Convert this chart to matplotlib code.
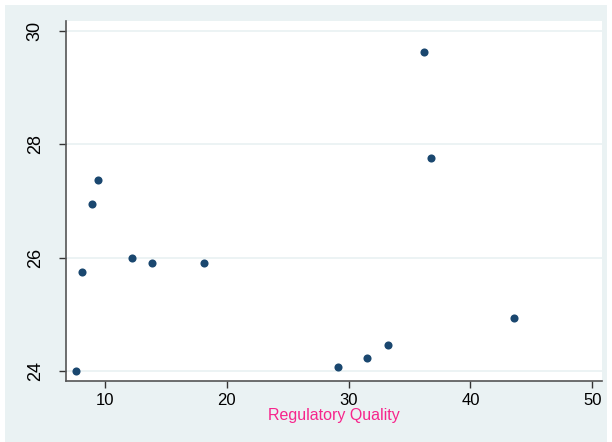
import matplotlib.pyplot as plt
from matplotlib.patches import Rectangle

plt.rcParams["font.family"] = ["Liberation Sans", "DejaVu Sans"]

# Regulatory quality vs. outcome
reg_quality = [7.6, 8.1, 8.9, 9.4, 12.2, 13.9, 18.1, 29.1, 31.5, 33.2, 36.2, 36.8, 43.6]
outcome = [24.0, 25.75, 26.95, 27.37, 25.99, 25.91, 25.91, 24.07, 24.23, 24.46, 29.63, 27.76, 24.94]
x_ticks = [10, 20, 30, 40, 50]
y_ticks = [24, 26, 28, 30]

bg = "#eaf2f3"
fig = plt.figure(figsize=(6.12, 4.42), dpi=100)
fig.patch.set_facecolor("white")
# light graph region behind the plot
fig.patches.append(Rectangle((5 / 612, 0), 602 / 612, 437 / 442, transform=fig.transFigure,
                             facecolor=bg, edgecolor="none", zorder=-10))

ax = fig.add_axes([66 / 612, 1 - 381 / 442, 536 / 612, 360 / 442])
ax.set_zorder(5)
ax.set_facecolor("white")
ax.scatter(reg_quality, outcome, s=34, color="#1a476f", zorder=3, linewidths=0)

ax.set_xlim(6.8, 50.8)
ax.set_ylim(23.82, 30.18)
ax.set_xticks(x_ticks)
ax.set_yticks(y_ticks)
ax.set_yticklabels([str(t) for t in y_ticks], rotation=90, va="center")
ax.tick_params(axis="both", labelsize=12, length=5, width=1, color="#333333", labelcolor="black")
ax.tick_params(axis="y", pad=11, labelsize=13)
ax.grid(axis="y", color=bg, linewidth=1.3)
ax.set_axisbelow(True)

for side in ("top", "right"):
    ax.spines[side].set_visible(False)
for side in ("left", "bottom"):
    ax.spines[side].set_color("#555555")
    ax.spines[side].set_linewidth(1.2)

ax.set_xlabel("Regulatory Quality", color="#f7258c", fontsize=11.5, labelpad=0)

fig.savefig("out.png", dpi=100, facecolor=fig.get_facecolor())
